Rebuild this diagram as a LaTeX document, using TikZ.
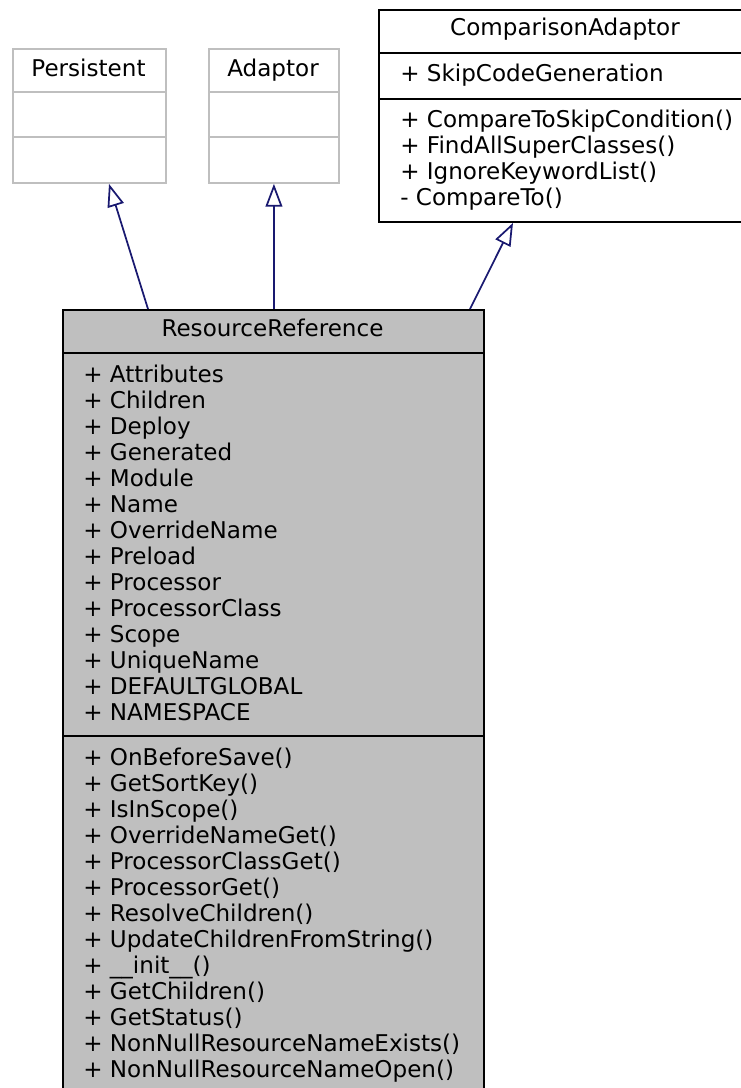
\documentclass[tikz,border=0pt]{standalone}
\usepackage{fontspec}
\setmainfont{DejaVu Sans}
\usetikzlibrary{positioning,arrows.meta}
\definecolor{edgeblue}{HTML}{191970}
\definecolor{boxgray}{HTML}{BFBFBF}

\tikzset{
  classbox/.style={draw, anchor=north west, inner sep=0pt, line width=1.4pt},
  ghostbox/.style={classbox, draw=boxgray, line width=1.4pt},
  title/.style={anchor=base, inner sep=0pt},
  members/.style={anchor=north west, inner sep=0pt, align=left},
  inherit/.style={draw=edgeblue, line width=1.3pt, -{Triangle[open,length=17pt,width=12.5pt]}}
}

\begin{document}
\begin{tikzpicture}[x=0.75pt,y=-0.75pt,font=\fontsize{17.3pt}{19.5pt}\selectfont]
\useasboundingbox (0,0) rectangle (741,1088);
\clip (0,0) rectangle (741,1088);
% parent classes
\node[ghostbox, minimum width=114.75pt, minimum height=100.5pt] (persistent) at (12,48) {};
\draw[boxgray, line width=1.4pt] (12,92) -- (165,92) (12,137) -- (165,137);
\node[title] (persistentname) at (88.5,76) {Persistent};
\node[ghostbox, minimum width=97.5pt, minimum height=100.5pt] (adaptor) at (208,48) {};
\draw[boxgray, line width=1.4pt] (208,92) -- (338,92) (208,137) -- (338,137);
\node[title] (adaptorname) at (273,76) {Adaptor};
\node[classbox, minimum width=274.5pt, minimum height=159pt] (compare) at (378,9) {};
\draw[line width=1.4pt] (378,53) -- (744,53) (378,99) -- (744,99);
\node[title] (comparename) at (565,36) {ComparisonAdaptor};
\node[members] (compareattr) at (400,64) {+ SkipCodeGeneration};
\node[members] (compareops) at (400,110) {+ CompareToSkipCondition()\\+ FindAllSuperClasses()\\+ IgnoreKeywordList()\\- CompareTo()};
% the class itself
\node[classbox, fill=boxgray, line width=1.6pt, minimum width=315.75pt, minimum height=587.25pt] (resref) at (62,309) {};
\draw[line width=1.6pt] (62,353) -- (483,353) (62,736) -- (483,736);
\node[title] (resrefname) at (272.5,336.7) {ResourceReference};
\node[members] (resrefattr) at (83,364.3) {+ Attributes\\+ Children\\+ Deploy\\+ Generated\\+ Module\\+ Name\\+ OverrideName\\+ Preload\\+ Processor\\+ ProcessorClass\\+ Scope\\+ UniqueName\\+ DEFAULTGLOBAL\\+ NAMESPACE};
\node[members] (resrefops) at (83,747.6) {+ OnBeforeSave()\\+ GetSortKey()\\+ IsInScope()\\+ OverrideNameGet()\\+ ProcessorClassGet()\\+ ProcessorGet()\\+ ResolveChildren()\\+ UpdateChildrenFromString()\\+ \_\_init\_\_()\\+ GetChildren()\\+ GetStatus()\\+ NonNullResourceNameExists()\\+ NonNullResourceNameOpen()};
% inheritance
\draw[inherit] ([xshift=64.5pt]resref.north west) -- ([xshift=72.75pt]persistent.south west);
\draw[inherit] (resref.north -| adaptor.south) -- (adaptor.south);
\draw[inherit] ([xshift=306pt]resref.north west) -- ([xshift=101.25pt]compare.south west);
\end{tikzpicture}
\end{document}
